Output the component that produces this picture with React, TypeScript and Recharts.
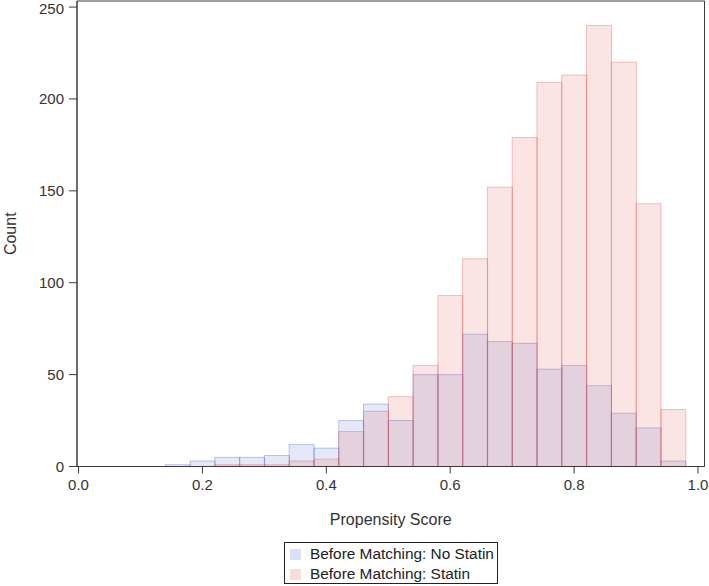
import {
  Bar,
  ComposedChart,
  Legend,
  ReferenceArea,
  XAxis,
  YAxis,
} from "recharts";

// bin midpoints (bin width 0.04)
const binMid = [
  0.16, 0.2, 0.24, 0.28, 0.32, 0.36, 0.4, 0.44, 0.48, 0.52, 0.56,
  0.6, 0.64, 0.68, 0.72, 0.76, 0.8, 0.84, 0.88, 0.92, 0.96,
];
const noStatin = [1, 3, 5, 5, 6, 12, 10, 25, 34, 25, 50, 50, 72, 68, 67, 53, 55, 44, 29, 21, 3];
const statin = [0, 0, 1, 1, 1, 3, 4, 19, 30, 38, 55, 93, 113, 152, 179, 209, 213, 240, 220, 143, 31];
const xTicks = [0, 0.2, 0.4, 0.6, 0.8, 1.0];
const yTicks = [0, 50, 100, 150, 200, 250];

const data = binMid.map((mid, i) => ({
  mid,
  noStatin: noStatin[i],
  statin: statin[i],
}));

const X_DOMAIN: [number, number] = [-0.0025, 1.0105];
const Y_MAX = 253.3;

const FONT = "'Liberation Sans', Arial, sans-serif";
const BLUE = "#3d5aca";
const PINK = "#e2493d";
const ALPHA = 0.14;
const EDGE_ALPHA = 0.32;
const AXIS = "#3a3a3a";

function LegendBox() {
  const row = (color: string, label: string) => (
    <div style={{ display: "flex", alignItems: "center", height: 20 }}>
      <span
        style={{
          display: "inline-block",
          width: 11,
          height: 11,
          background: color,
          opacity: ALPHA + 0.04,
          border: `1px solid ${color}`,
          marginRight: 9,
          boxSizing: "border-box",
        }}
      />
      <span>{label}</span>
    </div>
  );
  return (
    <div
      style={{
        width: 214,
        height: 42,
        boxSizing: "border-box",
        border: "1px solid #222",
        padding: "1px 0 0 5px",
        fontFamily: FONT,
        fontSize: 15.4,
        color: "#222",
        textAlign: "left",
        lineHeight: "20px",
      }}
    >
      {row(BLUE, "Before Matching: No Statin")}
      {row(PINK, "Before Matching: Statin")}
    </div>
  );
}

export default function App() {
  return (
    <div style={{ width: 709, height: 586, background: "#fff" }}>
      <style>{`body{margin:0}`}</style>
      <ComposedChart
        width={709}
        height={586}
        data={data}
        margin={{ top: 1, right: 4.5, bottom: 2, left: 0 }}
        barCategoryGap={0}
        barGap={0}
      >
        <XAxis
          xAxisId="a"
          type="number"
          dataKey="mid"
          domain={X_DOMAIN}
          ticks={xTicks}
          tickFormatter={(v) => Number(v).toFixed(1)}
          allowDataOverflow
          height={75.5}
          stroke={AXIS}
          tickSize={7}
          tickMargin={6}
          tick={{ fill: "#333", fontSize: 15, fontFamily: FONT }}
          label={{
            value: "Propensity Score",
            position: "insideBottom",
            offset: 17,
            style: { fill: "#333", fontSize: 16, fontFamily: FONT },
          }}
        />
        <XAxis
          xAxisId="b"
          type="number"
          dataKey="mid"
          domain={X_DOMAIN}
          allowDataOverflow
          hide
        />
        <YAxis
          yAxisId="l"
          domain={[0, Y_MAX]}
          ticks={yTicks}
          allowDataOverflow
          width={77}
          stroke={AXIS}
          tickSize={8}
          tickMargin={5}
          tick={{ fill: "#333", fontSize: 15, fontFamily: FONT }}
          label={{
            value: "Count",
            angle: -90,
            position: "insideLeft",
            offset: 10,
            style: { fill: "#333", fontSize: 16, fontFamily: FONT, textAnchor: "middle" },
          }}
        />
        <Bar
          xAxisId="b"
          yAxisId="l"
          dataKey="noStatin"
          name="Before Matching: No Statin"
          fill={BLUE}
          fillOpacity={ALPHA}
          stroke={BLUE}
          strokeOpacity={EDGE_ALPHA}
          isAnimationActive={false}
        />
        <Bar
          xAxisId="a"
          yAxisId="l"
          dataKey="statin"
          name="Before Matching: Statin"
          fill={PINK}
          fillOpacity={ALPHA}
          stroke={PINK}
          strokeOpacity={EDGE_ALPHA}
          isAnimationActive={false}
        />
        <ReferenceArea
          xAxisId="a"
          yAxisId="l"
          x1={X_DOMAIN[0]}
          x2={X_DOMAIN[1]}
          y1={0}
          y2={Y_MAX}
          fill="none"
          stroke={AXIS}
          strokeWidth={1}
          ifOverflow="visible"
        />
        <Legend
          verticalAlign="bottom"
          content={() => <LegendBox />}
          wrapperStyle={{ left: 284, width: 214 }}
        />
      </ComposedChart>
    </div>
  );
}
